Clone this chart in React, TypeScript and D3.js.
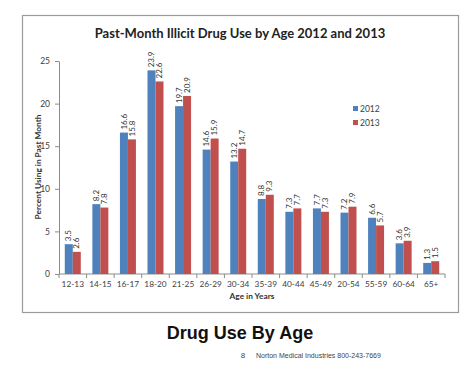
import { useEffect, useRef } from 'react'
import * as d3 from 'd3'

const ageGroups = ['12-13', '14-15', '16-17', '18-20', '21-25', '26-29', '30-34', '35-39', '40-44', '45-49', '20-54', '55-59', '60-64', '65+']
const values2012 = [3.5, 8.2, 16.6, 23.9, 19.7, 14.6, 13.2, 8.8, 7.3, 7.7, 7.2, 6.6, 3.6, 1.3]
const values2013 = [2.6, 7.8, 15.8, 22.6, 20.9, 15.9, 14.7, 9.3, 7.7, 7.3, 7.9, 5.7, 3.9, 1.5]
const seriesNames = ['2012', '2013']
const yTicks = [0, 5, 10, 15, 20, 25]

const colors = ['#4F81BD', '#C0504D']
const chartFont = 'Lato, "Open Sans", sans-serif'

export default function App() {
  const svgRef = useRef<SVGSVGElement>(null)

  useEffect(() => {
    if (!svgRef.current) return
    const svg = d3.select(svgRef.current)
    svg.selectAll('*').remove()

    const W = 474
    const H = 369
    svg.append('rect').attr('width', W).attr('height', H).attr('fill', '#fff')

    // slide frame around the chart
    svg.append('rect')
      .attr('x', 22.5).attr('y', 15.5)
      .attr('width', 436).attr('height', 297)
      .attr('fill', '#fff')
      .attr('stroke', '#9a9a9a')
      .attr('stroke-width', 1.2)

    svg.append('text')
      .attr('x', 240).attr('y', 37.5)
      .attr('text-anchor', 'middle')
      .attr('font-family', chartFont)
      .attr('font-weight', 700)
      .attr('font-size', 13)
      .attr('fill', '#222')
      .text('Past-Month Illicit Drug Use by Age 2012 and 2013')

    const left = 59
    const right = 445
    const top = 61
    const bottom = 274

    const x = d3.scaleBand<string>().domain(ageGroups).range([left, right]).paddingInner(0.42).paddingOuter(0.21)
    const inner = d3.scaleBand<string>().domain(seriesNames).range([0, x.bandwidth()])
    const y = d3.scaleLinear().domain([0, 25]).range([bottom, top])

    const g = svg.append('g')

    // y axis
    const yAxis = g.append('g')
      .attr('transform', `translate(${left},0)`)
      .call(d3.axisLeft(y).tickValues(yTicks).tickSize(4).tickSizeOuter(0).tickPadding(5))
    yAxis.select('.domain').attr('stroke', '#8c8c8c')
    yAxis.selectAll('.tick line').attr('stroke', '#8c8c8c')
    yAxis.selectAll('.tick text')
      .attr('font-family', chartFont)
      .attr('font-size', 8.5)
      .attr('fill', '#404040')

    // x axis
    const xAxisG = g.append('g').attr('transform', `translate(0,${bottom})`)
    xAxisG.append('line').attr('x1', left).attr('x2', right).attr('stroke', '#8c8c8c')
    const step = x.step()
    const boundaries = d3.range(ageGroups.length + 1).map(i => left + i * step)
    xAxisG.selectAll('.xt')
      .data(boundaries)
      .enter()
      .append('line')
      .attr('x1', d => d).attr('x2', d => d)
      .attr('y1', 0).attr('y2', 4)
      .attr('stroke', '#8c8c8c')
    xAxisG.selectAll('.xl')
      .data(ageGroups)
      .enter()
      .append('text')
      .attr('x', d => (x(d) ?? 0) + x.bandwidth() / 2)
      .attr('y', 13)
      .attr('text-anchor', 'middle')
      .attr('font-family', chartFont)
      .attr('font-size', 8.3)
      .attr('fill', '#404040')
      .text(d => d)

    const series = [values2012, values2013]
    series.forEach((vals, si) => {
      const sg = g.append('g')
      sg.selectAll('rect')
        .data(vals)
        .enter()
        .append('rect')
        .attr('x', (_, i) => (x(ageGroups[i]) ?? 0) + (inner(seriesNames[si]) ?? 0))
        .attr('y', d => y(d))
        .attr('width', inner.bandwidth())
        .attr('height', d => bottom - y(d))
        .attr('fill', colors[si])

      sg.selectAll('text')
        .data(vals)
        .enter()
        .append('text')
        .attr('transform', (d, i) => {
          const cx = (x(ageGroups[i]) ?? 0) + (inner(seriesNames[si]) ?? 0) + inner.bandwidth() / 2
          return `translate(${cx + 2.7},${y(d) - 3}) rotate(-90)`
        })
        .attr('font-family', chartFont)
        .attr('font-size', 8)
        .attr('fill', '#333')
        .text(d => d.toFixed(1))
    })

    // axis titles
    svg.append('text')
      .attr('transform', `translate(41,167) rotate(-90)`)
      .attr('text-anchor', 'middle')
      .attr('font-family', chartFont)
      .attr('font-weight', 700)
      .attr('font-size', 8.3)
      .attr('fill', '#333')
      .text('Percent Using in Past Month')

    svg.append('text')
      .attr('x', 252).attr('y', 299)
      .attr('text-anchor', 'middle')
      .attr('font-family', chartFont)
      .attr('font-weight', 700)
      .attr('font-size', 8.3)
      .attr('fill', '#333')
      .text('Age in Years')

    // legend
    const legend = svg.append('g').attr('transform', 'translate(353,106)')
    seriesNames.forEach((name, i) => {
      const lg = legend.append('g').attr('transform', `translate(0,${i * 14})`)
      lg.append('rect').attr('width', 5).attr('height', 5).attr('fill', colors[i])
      lg.append('text')
        .attr('x', 7).attr('y', 5.5)
        .attr('font-family', chartFont)
        .attr('font-size', 8.5)
        .attr('fill', '#404040')
        .text(name)
    })

    // slide caption
    svg.append('text')
      .attr('x', 240).attr('y', 339)
      .attr('text-anchor', 'middle')
      .attr('font-family', '"Liberation Sans", Arial, sans-serif')
      .attr('font-weight', 700)
      .attr('font-size', 18)
      .attr('fill', '#111')
      .text('Drug Use By Age')

    svg.append('text')
      .attr('x', 243).attr('y', 358)
      .attr('text-anchor', 'middle')
      .attr('font-family', '"Liberation Sans", Arial, sans-serif')
      .attr('font-size', 8)
      .attr('fill', '#444')
      .text('8')

    svg.append('text')
      .attr('x', 256).attr('y', 357.5)
      .attr('font-family', '"Liberation Sans", Arial, sans-serif')
      .attr('font-size', 7)
      .attr('fill', '#444')
      .text('Norton Medical Industries 800-243-7669')
  }, [])

  return (
    <svg
      ref={svgRef}
      width={474}
      height={369}
      style={{ position: 'fixed', left: 0, top: 0, display: 'block' }}
    />
  )
}
